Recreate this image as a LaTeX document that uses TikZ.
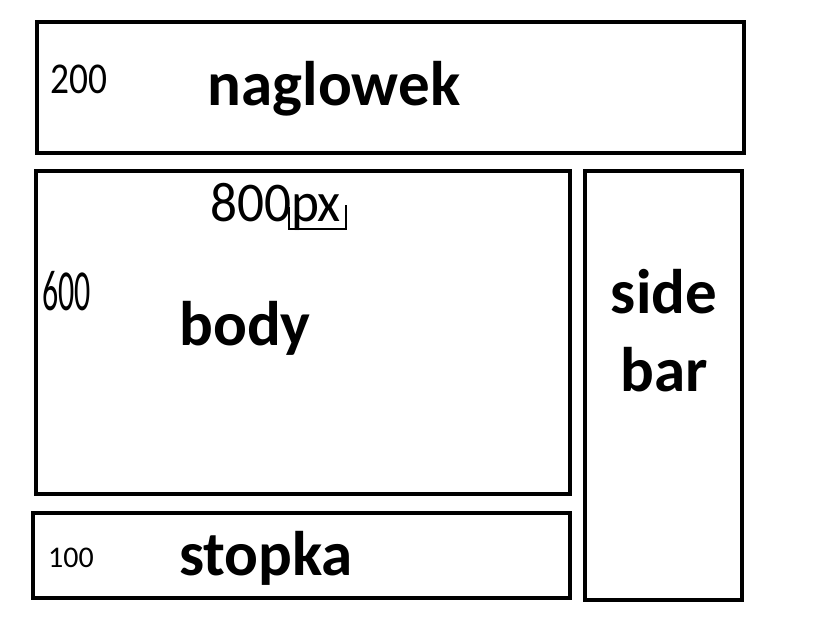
\documentclass[tikz,border=0pt]{standalone}
\usepackage{fontspec}
\setmainfont{Carlito}
\usepackage{tikz}
\usetikzlibrary{positioning}

\tikzset{
  frame/.style={draw=black, line width=4pt},
  title/.style={font=\fontsize{63}{78}\selectfont\bfseries, inner sep=0pt},
  scribble/.style={font=\fontsize{44}{46}\selectfont, inner sep=0pt, anchor=base west}
}

\begin{document}
\begin{tikzpicture}[x=1pt,y=-1pt]
  \useasboundingbox (0,0) rectangle (814,633);
  % Header box (naglowek)
  \draw[frame] (37,22) rectangle (744,153);
  \node[title] (naglowek) at (334,89) {naglowek};
  \node[scribble, xscale=0.85] (h200) at (50,93) {200};
  % Body box
  \draw[frame] (36,171) rectangle (570,494);
  \node[title] (body) at (245,328) {body};
  \node[scribble, font=\fontsize{56}{58}\selectfont, xscale=0.95] (w800) at (210,221) {800px};
  \node[scribble, font=\fontsize{58}{60}\selectfont, xscale=0.55] (b600) at (42,310) {600};
  % Bracket under px
  \draw[line width=2.5pt] (289,207) -- (289,229) -- (346,229) -- (346,205);
  % Sidebar box
  \draw[frame] (585,171) rectangle (742,600);
  \node[title, align=center] (sidebar) at (664,331) {side\\bar};
  % Footer box (stopka)
  \draw[frame] (33,513) rectangle (570,598);
  \node[title] (stopka) at (266,558) {stopka};
  \node[scribble, font=\fontsize{30}{32}\selectfont] (f100) at (48,567) {100};
\end{tikzpicture}
\end{document}
